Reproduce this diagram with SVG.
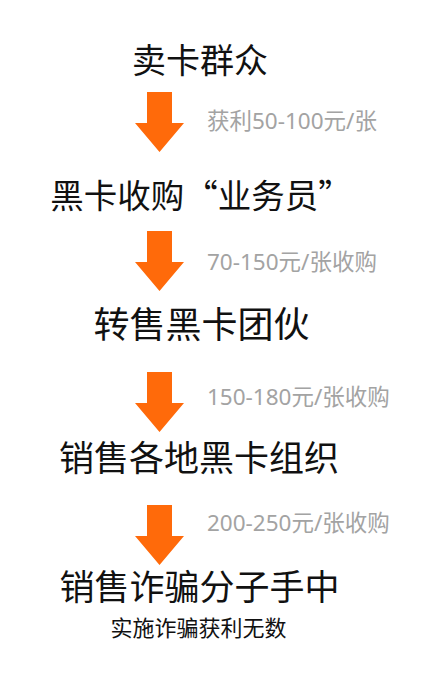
<svg xmlns="http://www.w3.org/2000/svg" xmlns:xlink="http://www.w3.org/1999/xlink" width="442" height="681" viewBox="0 0 442 681">
<style>
.main{font-family:"Noto Sans CJK SC","Noto Sans",sans-serif;font-size:34px;fill:#111;text-anchor:middle}
.big{font-size:35px}
.sub{font-family:"Noto Sans CJK SC","Noto Sans",sans-serif;font-size:22px;fill:#111;text-anchor:middle}
.lbl{font-family:"Noto Sans","Noto Sans CJK SC",sans-serif;font-size:22.5px;fill:#a3a3a3}
.arrow{fill:#ff6a0a}
</style>
<defs>
<path id="arr" d="M-12.5,0 H12.5 V31 H24.5 L0,60 L-24.5,31 H-12.5 Z"/>
</defs>
<rect width="442" height="681" fill="#fff"/>
<g id="connectors">
<use xlink:href="#arr" class="arrow" transform="translate(159.5,92)"/>
<use xlink:href="#arr" class="arrow" transform="translate(159.5,231)"/>
<use xlink:href="#arr" class="arrow" transform="translate(159.5,372)"/>
<use xlink:href="#arr" class="arrow" transform="translate(159.5,505)"/>
<text class="lbl" x="207" y="129">获利50-100元/张</text>
<text class="lbl" x="207" y="270">70-150元/张收购</text>
<text class="lbl" x="207" y="405">150-180元/张收购</text>
<text class="lbl" x="207" y="531">200-250元/张收购</text>
</g>
<g id="node1"><text class="main" x="200" y="73">卖卡群众</text></g>
<g id="node2"><text class="main" x="201" y="208" style="font-size:33.5px">黑卡收购“业务员”</text></g>
<g id="node3"><text class="main" x="201.5" y="338" style="font-size:36px">转售黑卡团伙</text></g>
<g id="node4"><text class="main big" x="199" y="471">销售各地黑卡组织</text></g>
<g id="node5"><text class="main big" x="199.5" y="600">销售诈骗分子手中</text>
<text class="sub" x="198.5" y="636">实施诈骗获利无数</text></g>
</svg>
